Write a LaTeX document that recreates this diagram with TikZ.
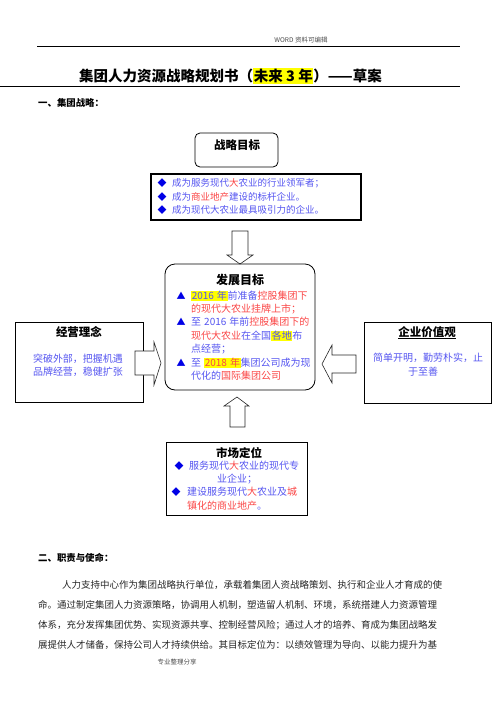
\documentclass[tikz,border=0pt]{standalone}
\usepackage{fontspec}
\setmainfont{Noto Sans CJK SC}
\usepackage{tikz}
\usetikzlibrary{arrows.meta}
\usepackage{xcolor}
\definecolor{txtblue}{RGB}{85, 85, 240}
\definecolor{txtred}{RGB}{250, 70, 70}
\definecolor{markblue}{RGB}{0, 0, 230}
\definecolor{hlyellow}{RGB}{255, 255, 0}
\XeTeXlinebreaklocale "zh"
\XeTeXlinebreakskip=0pt plus 3pt
\newcommand{\hl}[1]{{\setlength{\fboxsep}{0.6pt}\colorbox{hlyellow}{#1}}}

\begin{document}
\begin{tikzpicture}[x=1pt, y=-1pt, >=Latex,
    boxtitle/.style={inner sep=0pt, font=\fontsize{11.5}{13}\selectfont\bfseries},
    txt/.style={anchor=west, inner sep=0pt, text=txtblue, font=\fontsize{9.5}{11}\selectfont},
    devtxt/.style={anchor=west, inner sep=0pt, text=txtblue, font=\fontsize{10}{12}\selectfont},
    ctxt/.style={inner sep=0pt, text=txtblue, font=\fontsize{10}{12}\selectfont},
    bullet/.style={inner sep=0pt, text=markblue, font=\fontsize{9}{9}\selectfont},
    sec/.style={anchor=west, inner sep=0pt, font=\fontsize{9.4}{11}\selectfont\bfseries},
    para/.style={anchor=west, inner sep=0pt, text=black!85, font=\fontsize{9.5}{11}\selectfont},
    small/.style={inner sep=0pt, text=black!70, font=\fontsize{6.5}{7}\selectfont},
    barrow/.style={fill=white, draw=black!85, line width=0.6pt}]
    \useasboundingbox (0,0) rectangle (496,702);
    \node[small] (hdr) at (301,40) {WORD 资料可编辑};
    \draw[line width=0.8pt] (37,46) -- (460,46);
    \node[anchor=west, inner sep=0pt, font=\fontsize{14.5}{16}\selectfont\bfseries] (title) at (79,76)
        {集团人力资源战略规划书（\hl{未来 3 年}）——草案};
    \draw[line width=0.8pt] (0,86) -- (460,86);
    \node[sec] (sec1) at (38,103) {一、集团战略：};

    % strategic goal
    \node[draw, line width=0.8pt, rounded corners=5pt, minimum width=83pt, minimum height=34pt] (goal) at (236.5,150) {};
    \node[boxtitle] (goal-t) at (237,145) {战略目标};
    \node[draw, line width=1.2pt, minimum width=210pt, minimum height=46pt] (goal-list) at (256,197) {};
    \node[bullet] (g1m) at (162,183) {◆};
    \node[bullet] (g2m) at (162,197) {◆};
    \node[bullet] (g3m) at (162,210) {◆};
    \node[txt] (g1) at (172,183) {成为服务现代\textcolor{txtred}{大}农业的行业领军者；};
    \node[txt] (g2) at (172,197) {成为\textcolor{txtred}{商业地产}建设的标杆企业。};
    \node[txt] (g3) at (172,210) {成为现代大农业最具吸引力的企业。};
    \draw[barrow] (232,231) -- (248,231) -- (248,255) -- (253,255) -- (240,264) -- (227,255) -- (232,255) -- cycle;

    % development goal
    \node[draw, line width=0.8pt, rounded corners=10pt, minimum width=150pt, minimum height=126pt] (dev) at (240,327) {};
    \node[boxtitle, font=\fontsize{12}{13}\selectfont\bfseries] (dev-t) at (240,280) {发展目标};
    \node[bullet] (d1m) at (181,296) {▲};
    \node[bullet] (d3m) at (181,322) {▲};
    \node[bullet] (d6m) at (181,363) {▲};
    \node[devtxt] (d1) at (191,296) {\makebox[121pt][s]{\hl{2016\hspace{3pt}年}前准备\textcolor{txtred}{控股集团下}}};
    \node[devtxt] (d2) at (191,309) {\textcolor{txtred}{的现代大农业挂牌上市；}};
    \node[devtxt] (d3) at (191,322) {\makebox[121pt][s]{至\hspace{3pt}2016\hspace{3pt}年前\textcolor{txtred}{控股集团下的}}};
    \node[devtxt] (d4) at (191,336) {\makebox[121pt][s]{\textcolor{txtred}{现代大农业}在全国\hl{各地}布}};
    \node[devtxt] (d5) at (191,349) {点经营；};
    \node[devtxt] (d6) at (191,363) {\makebox[121pt][s]{至\hspace{3pt}\hl{\textcolor{txtred}{2018\hspace{3pt}年}}集团公司成为现}};
    \node[devtxt] (d7) at (191,376) {代化的\textcolor{txtred}{国际集团公司}};

    % operating ideas
    \node[draw, line width=0.8pt, minimum width=128pt, minimum height=80pt] (idea) at (79,362) {};
    \node[boxtitle] (idea-t) at (79,332) {经营理念};
    \node[ctxt] (i1) at (78,359) {突破外部，把握机遇};
    \node[ctxt] (i2) at (78,372) {品牌经营，稳健扩张};
    \draw[barrow] (135,351) -- (154,351) -- (154,342) -- (161,363) -- (154,385) -- (154,375) -- (135,375) -- cycle;

    % corporate values
    \node[draw, line width=0.8pt, minimum width=127pt, minimum height=81pt] (value) at (427.5,362.5) {};
    \node[boxtitle] (value-t) at (427,332) {企业价值观};
    \draw[line width=0.6pt] ([yshift=-0.5pt]value-t.south west) -- ([yshift=-0.5pt]value-t.south east);
    \node[ctxt] (v1) at (428,358) {简单开明，勤劳朴实，止};
    \node[ctxt] (v2) at (423,372) {于至善};
    \draw[barrow] (356,355) -- (332,355) -- (332,345) -- (322,364) -- (332,383) -- (332,373) -- (356,373) -- cycle;

    % market position
    \draw[barrow] (230,427) -- (230,406) -- (224,406) -- (237,397) -- (249,406) -- (245,406) -- (245,427) -- cycle;
    \node[draw, line width=1pt, minimum width=141pt, minimum height=73pt] (market) at (236.5,478.5) {};
    \node[boxtitle] (market-t) at (239,453) {市场定位};
    \node[bullet] (m1m) at (179,466) {◆};
    \node[bullet] (m3m) at (176,492) {◆};
    \node[devtxt] (m1) at (189,466) {服务现代\textcolor{txtred}{大}农业的现代专};
    \node[ctxt] (m2) at (237,479) {业企业；};
    \node[devtxt] (m3) at (187,492) {建设服务现代\textcolor{txtred}{大}农业及\textcolor{txtred}{城}};
    \node[devtxt] (m4) at (187,506) {\textcolor{txtred}{镇化的商业地产}。};

    \node[sec] (sec2) at (38,558) {二、职责与使命：};
    \node[para] (p1) at (62,585) {\makebox[396pt][s]{人力支持中心作为集团战略执行单位，承载着集团人资战略策划、执行和企业人才育成的使}};
    \node[para] (p2) at (38,605) {\makebox[420pt][s]{命。通过制定集团人力资源策略，协调用人机制，塑造留人机制、环境，系统搭建人力资源管理}};
    \node[para] (p3) at (38,625) {\makebox[420pt][s]{体系，充分发挥集团优势、实现资源共享、控制经营风险；通过人才的培养、育成为集团战略发}};
    \node[para] (p4) at (38,645) {\makebox[420pt][s]{展提供人才储备，保持公司人才持续供给。其目标定位为：以绩效管理为导向、以能力提升为基}};
    \node[small] (ftr) at (177,662) {专业整理分享};
  \end{tikzpicture}
\end{document}
